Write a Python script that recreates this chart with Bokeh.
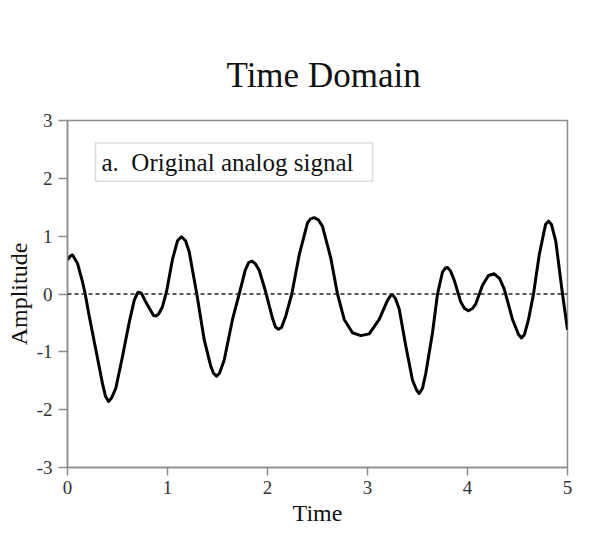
from bokeh.plotting import figure
from bokeh.models import Span, BoxAnnotation, Label, Title, FixedTicker
from bokeh.embed import file_html
from bokeh.resources import INLINE

# Signal (time, amplitude)
time = [0.00, 0.03, 0.05, 0.10, 0.15, 0.177, 0.217, 0.283, 0.35, 0.38, 0.41, 0.44, 0.483,
        0.55, 0.617, 0.667, 0.70, 0.717, 0.74, 0.783, 0.83, 0.86, 0.883, 0.91, 0.95, 0.99,
        1.05, 1.10, 1.14, 1.18, 1.217, 1.293, 1.367, 1.433, 1.46, 1.49, 1.52, 1.567, 1.65,
        1.717, 1.777, 1.81, 1.843, 1.88, 1.917, 1.983, 2.05, 2.08, 2.11, 2.14, 2.183, 2.243,
        2.317, 2.40, 2.43, 2.467, 2.51, 2.55, 2.633, 2.70, 2.767, 2.85, 2.933, 3.017, 3.117,
        3.20, 3.23, 3.25, 3.28, 3.317, 3.383, 3.45, 3.49, 3.517, 3.55, 3.583, 3.65, 3.70,
        3.75, 3.78, 3.80, 3.83, 3.867, 3.933, 3.97, 4.01, 4.05, 4.083, 4.15, 4.21, 4.267,
        4.32, 4.367, 4.45, 4.51, 4.54, 4.57, 4.61, 4.66, 4.717, 4.78, 4.81, 4.84, 4.883,
        4.95, 5.00]
amplitude = [0.59, 0.66, 0.675, 0.53, 0.21, 0.0, -0.38, -0.96, -1.55, -1.77, -1.86, -1.80, -1.63,
             -1.08, -0.49, -0.11, 0.02, 0.03, 0.01, -0.14, -0.28, -0.37, -0.38, -0.35, -0.22, 0.04,
             0.60, 0.92, 0.99, 0.92, 0.73, 0.0, -0.79, -1.25, -1.37, -1.42, -1.37, -1.14, -0.44,
             0.0, 0.41, 0.54, 0.57, 0.52, 0.41, 0.03, -0.42, -0.57, -0.61, -0.58, -0.38, 0.0,
             0.675, 1.23, 1.30, 1.32, 1.28, 1.17, 0.62, 0.0, -0.44, -0.67, -0.72, -0.69, -0.44,
             -0.11, -0.03, -0.01, -0.08, -0.26, -0.90, -1.49, -1.66, -1.72, -1.63, -1.37, -0.67, 0.0,
             0.38, 0.45, 0.46, 0.40, 0.24, -0.14, -0.25, -0.29, -0.25, -0.17, 0.15, 0.32, 0.35,
             0.27, 0.09, -0.44, -0.70, -0.76, -0.70, -0.44, 0.0, 0.675, 1.20, 1.26, 1.20, 0.91,
             0.0, -0.62]

x_ticks = [0, 1, 2, 3, 4, 5]
y_ticks = [-3, -2, -1, 0, 1, 2, 3]
y_tick_labels = {-3: "-3", -2: "-2", -1: "-1", 0: "0", 1: "1", 2: "2", 3: "3"}

title_text = "Time Domain"
legend_text = "a.\u00a0 Original analog signal"
x_label = "Time"
y_label = "Amplitude"

SERIF = "Liberation Serif"
GRAY = "#8c8c8c"

p = figure(width=586, height=531, output_backend="svg", toolbar_location=None,
           x_range=(0, 5), y_range=(-3, 3),
           min_border_left=67, min_border_right=19, min_border_top=120, min_border_bottom=64)
p.title = None
t = Title(text=title_text, align="left", text_font=SERIF, text_font_size="35px",
          text_font_style="normal", text_color="#111111", standoff=52, offset=159)
p.add_layout(t, "above")

p.grid.visible = False
p.outline_line_color = GRAY
p.outline_line_width = 1.5
p.background_fill_color = "white"
p.border_fill_color = "white"

for ax in (p.xaxis[0], p.yaxis[0]):
    ax.axis_line_color = GRAY
    ax.axis_line_width = 1.5
    ax.major_tick_line_color = GRAY
    ax.major_tick_line_width = 1.5
    ax.major_tick_in = 0
    ax.minor_tick_line_color = None
    ax.major_label_text_font = SERIF
    ax.major_label_text_font_size = "19px"
    ax.major_label_text_color = "#333333"
    ax.axis_label_text_font = SERIF
    ax.axis_label_text_font_size = "24px"
    ax.axis_label_text_font_style = "normal"
    ax.axis_label_text_color = "#111111"

p.xaxis[0].ticker = FixedTicker(ticks=x_ticks)
p.yaxis[0].ticker = FixedTicker(ticks=y_ticks)
p.yaxis[0].major_label_overrides = y_tick_labels
p.xaxis[0].major_tick_out = 8
p.yaxis[0].major_tick_out = 9
p.xaxis[0].major_label_standoff = 5
p.yaxis[0].major_label_standoff = 6
p.xaxis[0].axis_label = x_label
p.yaxis[0].axis_label = y_label
p.xaxis[0].axis_label_standoff = 3
p.yaxis[0].axis_label_standoff = 2

p.add_layout(Span(location=0, dimension="width", line_color="#222222",
                  line_width=1.3, line_dash="4 3"))

p.line(time, amplitude, line_color="black", line_width=3, line_join="round")

p.add_layout(BoxAnnotation(left=0.28, right=3.05, bottom=1.95, top=2.61,
                           fill_color="white", fill_alpha=1.0,
                           line_color=GRAY, line_width=1.5))
p.add_layout(Label(x=0.34, y=2.28, text=legend_text, text_font=SERIF,
                   text_font_size="25px", text_baseline="middle", text_color="#111111"))

open("out.html", "w").write(file_html(p, INLINE))
